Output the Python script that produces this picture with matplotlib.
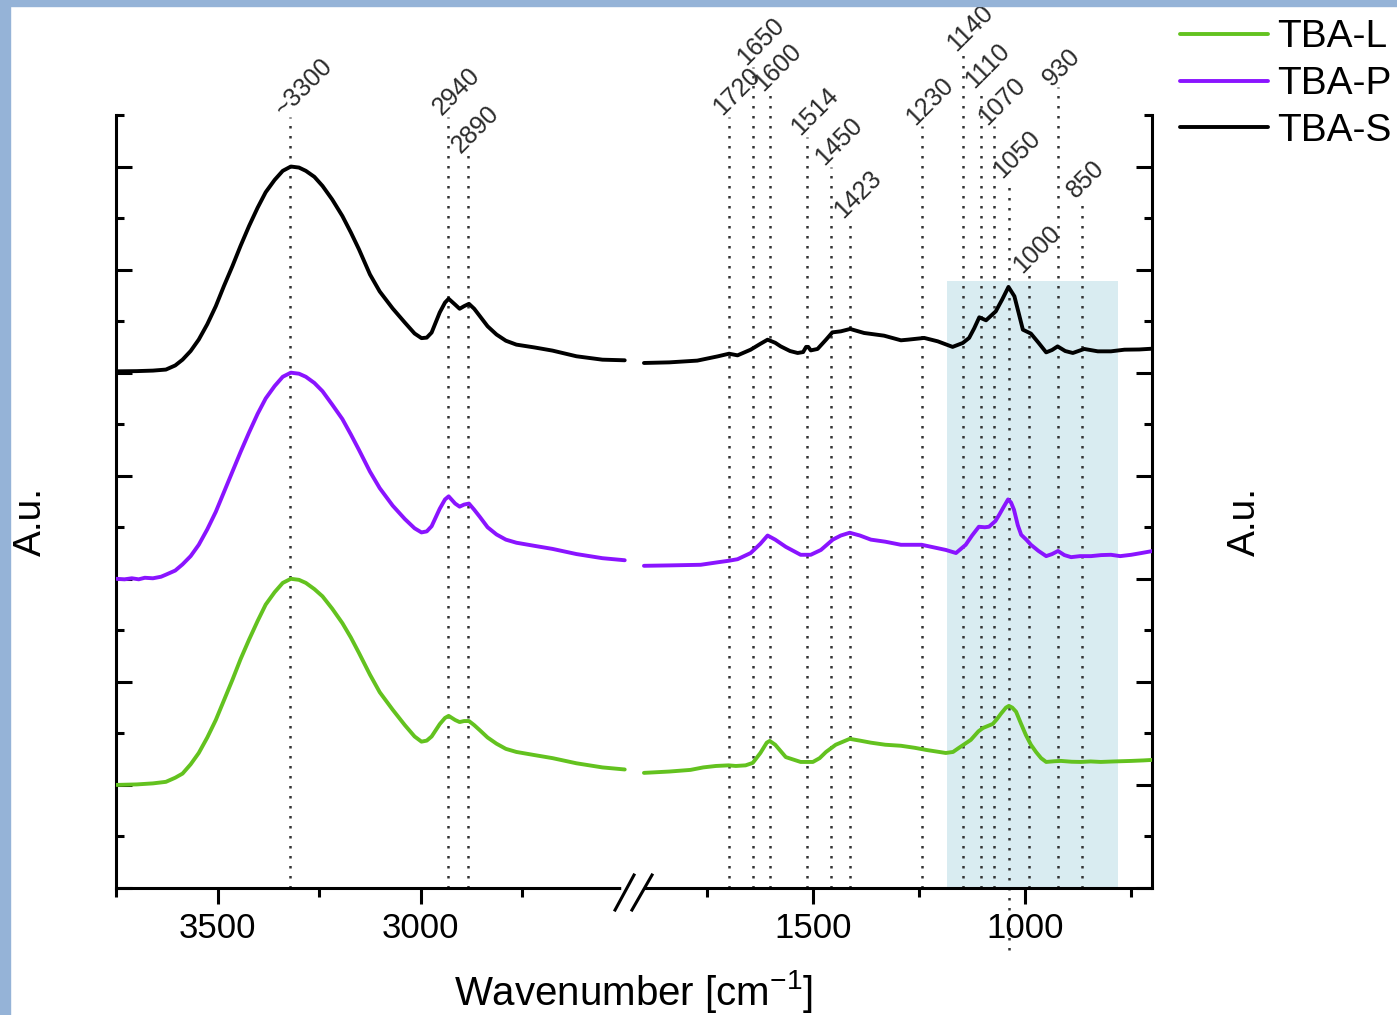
import numpy as np
import matplotlib
matplotlib.use('Agg')
import matplotlib.pyplot as plt
from matplotlib.patches import Rectangle

plt.rcParams['font.family'] = ['Liberation Sans', 'DejaVu Sans']
plt.rcParams['mathtext.fontset'] = 'custom'
plt.rcParams['mathtext.rm'] = 'Liberation Sans'

# ---- spectra (wavenumber in cm-1, stacked intensity in a.u.) ----
wn_s = [3751, 3700, 3660, 3628, 3605, 3587, 3567, 3547, 3526, 3505, 3485, 3464, 3444, 3423, 3402,
        3382, 3360, 3340, 3320, 3300, 3283, 3262, 3242, 3218, 3193, 3172, 3152, 3125, 3101, 3069,
        3039, 3015, 2998, 2985, 2973, 2953, 2940, 2931, 2915, 2904, 2893, 2881, 2868, 2854, 2835,
        2813, 2790, 2764, 2720, 2675, 2616, 2552, 2497,
        1900, 1840, 1774, 1726, 1699, 1679, 1648, 1625, 1608, 1590, 1577, 1555, 1537, 1524, 1517,
        1512, 1506, 1490, 1470, 1455, 1435, 1413, 1380, 1333, 1293, 1277, 1238, 1206, 1171, 1147,
        1132, 1120, 1108, 1092, 1069, 1054, 1039, 1025, 1015, 1005, 986, 968, 950, 936, 923, 905,
        887, 860, 828, 797, 765, 730, 698]
tba_s = [5.013, 5.015, 5.02, 5.03, 5.07, 5.126, 5.21, 5.321, 5.47, 5.645, 5.84, 6.034, 6.23, 6.423, 6.60,
         6.751, 6.87, 6.958, 7.0, 6.99, 6.958, 6.90, 6.812, 6.68, 6.52, 6.36, 6.196, 5.953, 5.788, 5.623,
         5.486, 5.38, 5.335, 5.34, 5.389, 5.584, 5.68, 5.717, 5.66, 5.62, 5.645, 5.668, 5.62, 5.548, 5.45,
         5.37, 5.31, 5.272, 5.245, 5.214, 5.159, 5.126, 5.12,
         5.094, 5.10, 5.117, 5.158, 5.184, 5.168, 5.223, 5.28, 5.32, 5.29, 5.255, 5.21, 5.191, 5.20, 5.25,
         5.25, 5.216, 5.23, 5.32, 5.391, 5.401, 5.424, 5.385, 5.359, 5.314, 5.32, 5.337, 5.304, 5.25, 5.288,
         5.337, 5.43, 5.537, 5.508, 5.595, 5.709, 5.832, 5.741, 5.58, 5.417, 5.379, 5.29, 5.197, 5.22, 5.255, 5.21,
         5.191, 5.23, 5.207, 5.207, 5.223, 5.225, 5.233]

wn_p = [3751, 3730, 3712, 3695, 3680, 3660, 3640, 3628, 3605, 3587, 3567, 3547, 3526, 3505, 3485,
        3464, 3444, 3423, 3402, 3382, 3360, 3340, 3320, 3300, 3283, 3262, 3242, 3218, 3193, 3172,
        3152, 3125, 3101, 3069, 3039, 3015, 2998, 2985, 2973, 2953, 2940, 2931, 2915, 2904, 2893,
        2881, 2868, 2854, 2835, 2813, 2790, 2764, 2720, 2675, 2616, 2552, 2497,
        1900, 1840, 1766, 1726, 1700, 1679, 1648, 1625, 1608, 1590, 1565, 1530, 1506, 1482, 1454,
        1435, 1414, 1390, 1364, 1330, 1293, 1244, 1187, 1163, 1140, 1125, 1109, 1095, 1085, 1070,
        1061, 1050, 1040, 1033, 1026, 1017, 1009, 997, 986, 968, 950, 936, 922, 907, 891, 870,
        844, 820, 797, 775, 749, 725, 698]
tba_p = [3.0, 2.995, 3.005, 2.995, 3.01, 3.005, 3.02, 3.04, 3.08, 3.14, 3.22, 3.33, 3.48, 3.65, 3.84,
         4.04, 4.23, 4.42, 4.60, 4.75, 4.87, 4.96, 5.0, 4.99, 4.96, 4.90, 4.82, 4.69, 4.55, 4.40,
         4.25, 4.04, 3.88, 3.71, 3.58, 3.49, 3.45, 3.46, 3.51, 3.68, 3.77, 3.80, 3.73, 3.70, 3.72,
         3.73, 3.67, 3.60, 3.50, 3.43, 3.38, 3.35, 3.32, 3.29, 3.24, 3.20, 3.18,
         3.126, 3.13, 3.136, 3.16, 3.175, 3.19, 3.25, 3.34, 3.42, 3.38, 3.31, 3.233, 3.233, 3.28, 3.38,
         3.42, 3.447, 3.42, 3.38, 3.36, 3.33, 3.33, 3.28, 3.25, 3.33, 3.42, 3.505, 3.50, 3.505, 3.56,
         3.62, 3.70, 3.77, 3.74, 3.67, 3.52, 3.427, 3.38, 3.33, 3.27, 3.22, 3.24, 3.27, 3.23, 3.21, 3.22,
         3.22, 3.23, 3.233, 3.22, 3.233, 3.25, 3.27]

wn_l = [3751, 3700, 3660, 3628, 3605, 3587, 3567, 3547, 3526, 3505, 3485, 3464, 3444, 3423, 3402,
        3382, 3360, 3340, 3320, 3300, 3283, 3262, 3242, 3218, 3193, 3172, 3152, 3125, 3101, 3069,
        3039, 3015, 2998, 2985, 2973, 2953, 2940, 2931, 2915, 2904, 2893, 2881, 2868, 2854, 2835,
        2813, 2790, 2764, 2720, 2675, 2616, 2552, 2497,
        1900, 1840, 1790, 1760, 1730, 1700, 1683, 1660, 1643, 1625, 1610, 1603, 1590, 1565, 1530,
        1501, 1485, 1470, 1447, 1414, 1390, 1364, 1330, 1293, 1260, 1234, 1187, 1170, 1156, 1128,
        1110, 1099, 1086, 1076, 1066, 1057, 1045, 1038, 1030, 1021, 1010, 998, 986, 974, 962, 950,
        930, 915, 890, 868, 845, 821, 790, 749, 720, 698]
tba_l = [1.0, 1.005, 1.015, 1.03, 1.07, 1.11, 1.20, 1.31, 1.46, 1.63, 1.82, 2.02, 2.22, 2.41, 2.59,
         2.75, 2.87, 2.96, 3.0, 2.99, 2.96, 2.90, 2.83, 2.71, 2.57, 2.43, 2.28, 2.07, 1.90, 1.73,
         1.58, 1.47, 1.42, 1.43, 1.47, 1.59, 1.65, 1.67, 1.63, 1.61, 1.62, 1.62, 1.58, 1.53, 1.46,
         1.40, 1.35, 1.32, 1.29, 1.26, 1.21, 1.17, 1.15,
         1.117, 1.13, 1.146, 1.17, 1.184, 1.19, 1.184, 1.19, 1.214, 1.31, 1.41, 1.427, 1.39, 1.27, 1.223,
         1.223, 1.26, 1.32, 1.39, 1.447, 1.43, 1.41, 1.39, 1.38, 1.36, 1.34, 1.31, 1.32, 1.36, 1.437,
         1.52, 1.553, 1.575, 1.592, 1.64, 1.69, 1.75, 1.767, 1.75, 1.71, 1.60, 1.485, 1.39, 1.32, 1.26, 1.223,
         1.23, 1.233, 1.225, 1.223, 1.228, 1.223, 1.228, 1.233, 1.238, 1.243]

series_names = ['TBA-L', 'TBA-P', 'TBA-S']
series_colors = ['#63c21f', '#8a14ff', '#000000']

# ---- band assignments (label text, drawn position, top of the dotted line) ----
band_labels = ['~3300', '2940', '2890', '1720', '1650', '1600', '1514', '1450', '1423',
               '1230', '1140', '1110', '1070', '1050', '1000', '930', '850']
band_pos = [3322, 2933, 2884, 1700, 1643, 1603, 1515, 1459, 1414,
            1244, 1147, 1104, 1073, 1038, 991, 922, 865]
band_top = [7.48, 7.485, 7.12, 7.485, 7.97, 7.72, 7.29, 7.0, 6.485,
            7.39, 8.11, 7.75, 7.39, 6.87, 5.95, 7.77, 6.68]

# highlighted region
shade_range = (1184, 780)
shade_top = 5.885

# broken axis: wavenumber -> pixel-like coordinate
W_KNOT = np.array([0, 700, 1922, 2475, 3751, 5000], dtype=float)
PX_KNOT = np.array([1447.8, 1151.7, 634.5, 633.5, 116.0, -391.1])


def fwd(w):
    return -np.interp(w, W_KNOT, PX_KNOT)


def inv(u):
    return np.interp(-np.asarray(u), PX_KNOT[::-1], W_KNOT[::-1])


def main():
    fig = plt.figure(figsize=(13.97, 10.15), dpi=100)

    # slide frame strips
    fig.patches.append(Rectangle((0, 0), 10 / 1397, 1, transform=fig.transFigure,
                                 color='#95b3d7', zorder=0))
    fig.patches.append(Rectangle((0, 1 - 6 / 1015), 1, 6 / 1015, transform=fig.transFigure,
                                 color='#95b3d7', zorder=0))

    ax = fig.add_axes([116 / 1397, 127 / 1015, 1036 / 1397, 773 / 1015])
    ax.set_xscale('function', functions=(fwd, inv))
    ax.set_xlim(3751, 700)
    ax.set_ylim(0, 7.5)

    ax.axvspan(shade_range[0], shade_range[1], ymin=0, ymax=shade_top / 7.5,
               color='#d9ecf1', lw=0, zorder=0)

    for i in range(len(band_pos)):
        ybot = -0.6 if band_labels[i] == '1050' else 0
        ax.plot([band_pos[i], band_pos[i]], [ybot, band_top[i]], color='#333333',
                lw=1.8, ls=(0, (1, 3)), clip_on=False, zorder=1)
        ax.annotate(band_labels[i], xy=(band_pos[i], band_top[i]), xytext=(-20, -3),
                    textcoords='offset pixels', rotation=45, ha='left', va='bottom',
                    fontsize=18, color='#2a2a2a', annotation_clip=False)

    data = [(wn_l, tba_l), (wn_p, tba_p), (wn_s, tba_s)]
    for (wn, val), name, col in zip(data, series_names, series_colors):
        wn = np.array(wn)
        val = np.array(val)
        hi = wn > 2200
        ax.plot(wn[hi], val[hi], color=col, lw=2.8, label=name, zorder=3,
                solid_joinstyle='round', solid_capstyle='round')
        ax.plot(wn[~hi], val[~hi], color=col, lw=2.8, zorder=3,
                solid_joinstyle='round', solid_capstyle='round')

    ax.set_xticks([3500, 3000, 1500, 1000])
    ax.set_xticklabels(['3500', '3000', '1500', '1000'])
    ax.set_xticks([3750, 3250, 2750, 1750, 1250, 750], minor=True)
    ax.set_yticks(np.arange(0, 7.01, 1))
    ax.set_yticks(np.arange(0.5, 7.6, 1), minor=True)
    ax.tick_params(axis='x', which='major', direction='out', length=11.5, width=2.2,
                   labelsize=25, pad=6)
    ax.tick_params(axis='x', which='minor', direction='out', length=6.5, width=2.2)
    ax.tick_params(axis='y', which='major', direction='in', left=True, right=True,
                   labelleft=False, length=11.5, width=2.2)
    ax.tick_params(axis='y', which='minor', direction='in', left=True, right=True,
                   length=6, width=2.2)

    ax.spines['top'].set_visible(False)
    for s in ['left', 'right', 'bottom']:
        ax.spines[s].set_linewidth(2.2)

    # axis break marks
    ax.plot([0.4905, 0.508], [0, 0], transform=ax.transAxes, color='white', lw=4,
            clip_on=False, zorder=5)
    ax.plot([0.4817, 0.5], [-0.0285, 0.0168], transform=ax.transAxes, color='black',
            lw=2.2, clip_on=False, zorder=6)
    ax.plot([0.498, 0.5174], [-0.0285, 0.0168], transform=ax.transAxes, color='black',
            lw=2.2, clip_on=False, zorder=6)

    ax.set_xlabel(r'Wavenumber [cm$^{\mathregular{ -1}}$]', fontsize=29)
    ax.xaxis.set_label_coords(0.5, -0.103)
    fig.text(31 / 1397, 1 - 521 / 1015, 'A.u.', rotation=90, ha='center', va='center',
             fontsize=28)
    fig.text(1245 / 1397, 1 - 521 / 1015, 'A.u.', rotation=90, ha='center', va='center',
             fontsize=28)

    fig.legend(loc='upper left', bbox_to_anchor=(1180 / 1397, 0.981), frameon=False,
               fontsize=28, handlelength=2.25, handletextpad=0.25, labelspacing=0.28,
               borderpad=0, borderaxespad=0)

    fig.savefig('out.png', dpi=100, facecolor='white')


if __name__ == '__main__':
    main()
